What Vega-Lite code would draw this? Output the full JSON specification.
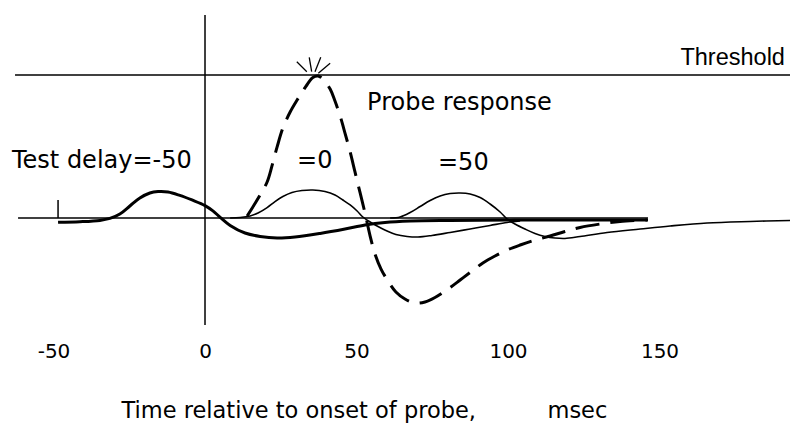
{
  "$schema": "https://vega.github.io/schema/vega-lite/v6.json",
  "width": 790,
  "height": 335,
  "autosize": {"type": "none"},
  "padding": {"left": 0, "top": 0, "right": 0, "bottom": 93},
  "background": "white",
  "config": {"view": {"stroke": null}},
  "datasets": {
    "curves": [
      {"series": "A", "t": -48.5, "v": -3.0},
      {"series": "A", "t": -41.3, "v": -2.6},
      {"series": "A", "t": -34.7, "v": -1.7},
      {"series": "A", "t": -31.4, "v": -0.3},
      {"series": "A", "t": -28.1, "v": 2.8},
      {"series": "A", "t": -24.8, "v": 8.4},
      {"series": "A", "t": -21.5, "v": 14.0},
      {"series": "A", "t": -18.2, "v": 17.5},
      {"series": "A", "t": -15.5, "v": 18.5},
      {"series": "A", "t": -12.2, "v": 18.2},
      {"series": "A", "t": -8.3, "v": 15.8},
      {"series": "A", "t": -4.3, "v": 12.6},
      {"series": "A", "t": 0, "v": 8.7},
      {"series": "A", "t": 2.6, "v": 5.0},
      {"series": "A", "t": 5.0, "v": 0.5},
      {"series": "A", "t": 8.3, "v": -5.2},
      {"series": "A", "t": 13.2, "v": -10.5},
      {"series": "A", "t": 18.2, "v": -12.9},
      {"series": "A", "t": 23.8, "v": -14.0},
      {"series": "A", "t": 29.7, "v": -13.3},
      {"series": "A", "t": 38.0, "v": -10.8},
      {"series": "A", "t": 46.2, "v": -7.7},
      {"series": "A", "t": 52.8, "v": -4.9},
      {"series": "A", "t": 59.4, "v": -3.1},
      {"series": "A", "t": 67.7, "v": -2.1},
      {"series": "A", "t": 80.9, "v": -1.7},
      {"series": "A", "t": 113.9, "v": -1.4},
      {"series": "A", "t": 146.2, "v": -1.4},
      {"series": "B", "t": 8.3, "v": 0},
      {"series": "B", "t": 11.6, "v": 0.3},
      {"series": "B", "t": 14.9, "v": 1.4},
      {"series": "B", "t": 17.5, "v": 3.5},
      {"series": "B", "t": 20.5, "v": 7.3},
      {"series": "B", "t": 23.1, "v": 11.5},
      {"series": "B", "t": 25.7, "v": 15.0},
      {"series": "B", "t": 28.7, "v": 17.8},
      {"series": "B", "t": 32.0, "v": 19.2},
      {"series": "B", "t": 35.6, "v": 19.6},
      {"series": "B", "t": 39.6, "v": 18.5},
      {"series": "B", "t": 42.9, "v": 16.1},
      {"series": "B", "t": 45.5, "v": 12.6},
      {"series": "B", "t": 47.9, "v": 9.1},
      {"series": "B", "t": 50.2, "v": 4.9},
      {"series": "B", "t": 52.1, "v": 0.7},
      {"series": "B", "t": 54.5, "v": -2.8},
      {"series": "B", "t": 57.1, "v": -5.9},
      {"series": "B", "t": 60.1, "v": -9.1},
      {"series": "B", "t": 63.0, "v": -11.5},
      {"series": "B", "t": 66.7, "v": -12.9},
      {"series": "B", "t": 70.3, "v": -13.3},
      {"series": "B", "t": 74.9, "v": -12.2},
      {"series": "B", "t": 80.9, "v": -10.1},
      {"series": "B", "t": 87.5, "v": -7.7},
      {"series": "B", "t": 94.1, "v": -5.2},
      {"series": "B", "t": 99.7, "v": -3.1},
      {"series": "B", "t": 104.0, "v": -2.1},
      {"series": "C", "t": 61.1, "v": 0},
      {"series": "C", "t": 64.4, "v": 0.7},
      {"series": "C", "t": 67.7, "v": 3.8},
      {"series": "C", "t": 71.0, "v": 8.0},
      {"series": "C", "t": 74.3, "v": 12.2},
      {"series": "C", "t": 77.6, "v": 15.4},
      {"series": "C", "t": 80.9, "v": 17.1},
      {"series": "C", "t": 84.2, "v": 17.5},
      {"series": "C", "t": 87.5, "v": 16.8},
      {"series": "C", "t": 90.8, "v": 14.3},
      {"series": "C", "t": 94.1, "v": 9.8},
      {"series": "C", "t": 97.4, "v": 4.2},
      {"series": "C", "t": 99.7, "v": -0.7},
      {"series": "C", "t": 102.3, "v": -4.2},
      {"series": "C", "t": 105.6, "v": -7.7},
      {"series": "C", "t": 108.9, "v": -10.8},
      {"series": "C", "t": 112.2, "v": -12.9},
      {"series": "C", "t": 115.5, "v": -14.0},
      {"series": "C", "t": 118.8, "v": -14.3},
      {"series": "C", "t": 123.8, "v": -12.9},
      {"series": "C", "t": 132.7, "v": -10.1},
      {"series": "C", "t": 143.6, "v": -7.7},
      {"series": "C", "t": 153.5, "v": -5.6},
      {"series": "C", "t": 165.7, "v": -3.5},
      {"series": "C", "t": 179.9, "v": -2.4},
      {"series": "C", "t": 193.1, "v": -1.7},
      {"series": "D", "t": 13.9, "v": 1.4},
      {"series": "D", "t": 15.8, "v": 7.7},
      {"series": "D", "t": 18.2, "v": 16.1},
      {"series": "D", "t": 20.5, "v": 25.2},
      {"series": "D", "t": 22.1, "v": 36.4},
      {"series": "D", "t": 23.8, "v": 49.7},
      {"series": "D", "t": 25.7, "v": 62.9},
      {"series": "D", "t": 28.1, "v": 74.1},
      {"series": "D", "t": 30.4, "v": 82.5},
      {"series": "D", "t": 32.3, "v": 88.8},
      {"series": "D", "t": 34.3, "v": 95.1},
      {"series": "D", "t": 35.6, "v": 98.3},
      {"series": "D", "t": 37.3, "v": 99.3},
      {"series": "D", "t": 38.9, "v": 97.2},
      {"series": "D", "t": 41.3, "v": 90.2},
      {"series": "D", "t": 42.9, "v": 81.8},
      {"series": "D", "t": 44.6, "v": 71.3},
      {"series": "D", "t": 46.2, "v": 59.4},
      {"series": "D", "t": 47.9, "v": 46.2},
      {"series": "D", "t": 49.5, "v": 32.2},
      {"series": "D", "t": 51.2, "v": 17.5},
      {"series": "D", "t": 52.8, "v": 3.5},
      {"series": "D", "t": 54.5, "v": -12.6},
      {"series": "D", "t": 56.1, "v": -25.2},
      {"series": "D", "t": 58.1, "v": -35.7},
      {"series": "D", "t": 60.4, "v": -44.1},
      {"series": "D", "t": 63.0, "v": -51.7},
      {"series": "D", "t": 66.0, "v": -56.6},
      {"series": "D", "t": 69.3, "v": -59.4},
      {"series": "D", "t": 72.6, "v": -58.7},
      {"series": "D", "t": 75.9, "v": -55.6},
      {"series": "D", "t": 80.2, "v": -49.7},
      {"series": "D", "t": 84.2, "v": -43.4},
      {"series": "D", "t": 88.1, "v": -37.1},
      {"series": "D", "t": 91.7, "v": -31.5},
      {"series": "D", "t": 95.7, "v": -26.6},
      {"series": "D", "t": 99.7, "v": -22.4},
      {"series": "D", "t": 104.0, "v": -18.9},
      {"series": "D", "t": 108.9, "v": -15.4},
      {"series": "D", "t": 113.9, "v": -12.6},
      {"series": "D", "t": 118.8, "v": -9.4},
      {"series": "D", "t": 123.8, "v": -6.6},
      {"series": "D", "t": 130.4, "v": -4.2},
      {"series": "D", "t": 137.0, "v": -2.4},
      {"series": "D", "t": 145.9, "v": -1.4}
    ],
    "segments": [
      {"name": "threshold", "t": -62.7, "v": 100, "t2": 193.1, "v2": 100},
      {"name": "baseline", "t": -61.7, "v": 0, "t2": 146.2, "v2": 0},
      {"name": "onset", "t": 0, "v": 142.0, "t2": 0, "v2": -74.8},
      {"name": "start tick", "t": -48.5, "v": 12.6, "t2": -48.5, "v2": 0}
    ],
    "burst": [
      {"t": 30.3, "v": 109.3, "t2": 33.6, "v2": 102.3},
      {"t": 34.4, "v": 112.4, "t2": 35.2, "v2": 102.3},
      {"t": 38.2, "v": 112.4, "t2": 36.3, "v2": 102.3},
      {"t": 41.3, "v": 108.2, "t2": 37.4, "v2": 101.2}
    ],
    "labels": [
      {"label": "Test delay=-50", "t": -63.7, "v": 35.0},
      {"label": "=0", "t": 30.4, "v": 35.0},
      {"label": "=50", "t": 76.9, "v": 33.6},
      {"label": "Probe response", "t": 53.5, "v": 75.5}
    ],
    "thresholdLabel": [
      {"label": "Threshold", "t": 191.4, "v": 107.0}
    ]
  },
  "layer": [
    {
      "data": {"name": "segments"},
      "mark": {"type": "rule", "color": "black", "strokeWidth": 1.5},
      "encoding": {
        "x": {"field": "t", "type": "quantitative",
          "scale": {"domain": [-67.66, 193.07], "nice": false, "zero": false},
          "axis": {
            "values": [-50, 0, 50, 100, 150],
            "labelExpr": "datum.value < 0 ? '-' + abs(datum.value) : '' + datum.value",
            "domain": false, "ticks": false, "grid": false,
            "labelFont": "DejaVu Sans", "labelFontSize": 20, "labelColor": "black",
            "labelBaseline": "alphabetic", "labelPadding": 22,
            "title": "Time relative to onset of probe,\u00a0\u00a0\u00a0\u00a0\u00a0\u00a0\u00a0\u00a0\u00a0\u00a0msec",
            "titleFont": "DejaVu Sans", "titleFontSize": 22.5, "titleFontWeight": "normal",
            "titleColor": "black", "titleAlign": "left", "titleAnchor": "start",
            "titleX": 121, "titleY": 82, "titleBaseline": "alphabetic"
          }},
        "y": {"field": "v", "type": "quantitative",
          "scale": {"domain": [-81.82, 152.45], "nice": false, "zero": false},
          "axis": null},
        "x2": {"field": "t2"},
        "y2": {"field": "v2"}
      }
    },
    {
      "data": {"name": "burst"},
      "mark": {"type": "rule", "color": "black", "strokeWidth": 1.3},
      "encoding": {
        "x": {"field": "t", "type": "quantitative"},
        "y": {"field": "v", "type": "quantitative"},
        "x2": {"field": "t2"},
        "y2": {"field": "v2"}
      }
    },
    {
      "data": {"name": "curves"},
      "transform": [{"filter": "datum.series === 'A'"}],
      "mark": {"type": "line", "color": "black", "strokeWidth": 3, "interpolate": "catmull-rom"},
      "encoding": {
        "x": {"field": "t", "type": "quantitative"},
        "y": {"field": "v", "type": "quantitative"}
      }
    },
    {
      "data": {"name": "curves"},
      "transform": [{"filter": "datum.series === 'B' || datum.series === 'C'"}],
      "mark": {"type": "line", "color": "black", "strokeWidth": 1.6, "interpolate": "catmull-rom"},
      "encoding": {
        "x": {"field": "t", "type": "quantitative"},
        "y": {"field": "v", "type": "quantitative"},
        "detail": {"field": "series"}
      }
    },
    {
      "data": {"name": "curves"},
      "transform": [{"filter": "datum.series === 'D'"}],
      "mark": {"type": "line", "color": "black", "strokeWidth": 3, "strokeDash": [24, 11], "interpolate": "catmull-rom"},
      "encoding": {
        "x": {"field": "t", "type": "quantitative"},
        "y": {"field": "v", "type": "quantitative"}
      }
    },
    {
      "data": {"name": "labels"},
      "mark": {"type": "text", "align": "left", "baseline": "alphabetic", "font": "DejaVu Sans", "fontSize": 24, "fontWeight": "normal", "color": "black"},
      "encoding": {
        "x": {"field": "t", "type": "quantitative"},
        "y": {"field": "v", "type": "quantitative"},
        "text": {"field": "label"}
      }
    },
    {
      "data": {"name": "thresholdLabel"},
      "mark": {"type": "text", "align": "right", "baseline": "alphabetic", "font": "Liberation Sans", "fontSize": 23.5, "color": "black"},
      "encoding": {
        "x": {"field": "t", "type": "quantitative"},
        "y": {"field": "v", "type": "quantitative"},
        "text": {"field": "label"}
      }
    }
  ]
}
